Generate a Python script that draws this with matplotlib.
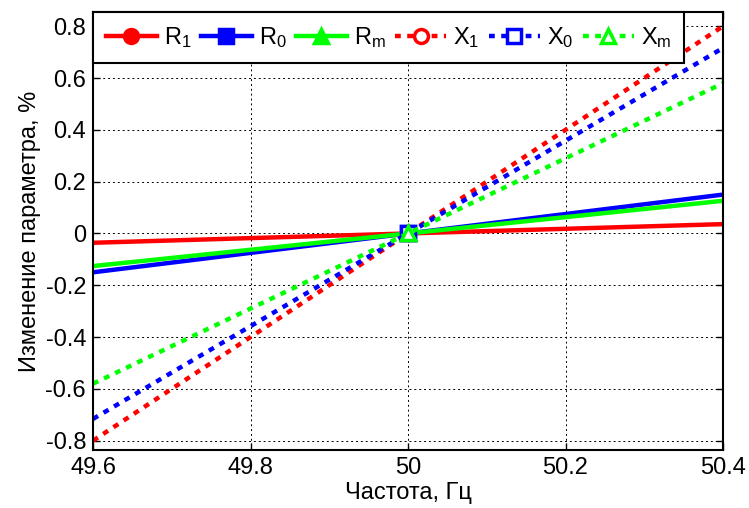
import numpy as np
import matplotlib.pyplot as plt

plt.rcParams['font.family'] = ['Liberation Sans', 'DejaVu Sans']
plt.rcParams['mathtext.default'] = 'regular'

# frequency points, Hz
freq = [49.6, 50.0, 50.4]

# parameter change, %
r1 = [-0.036, 0.0, 0.036]
r0 = [-0.150, 0.0, 0.150]
rm = [-0.126, 0.0, 0.126]
x1 = [-0.800, 0.0, 0.800]
x0 = [-0.716, 0.0, 0.716]
xm = [-0.580, 0.0, 0.580]

names = ['R$_1$', 'R$_0$', 'R$_m$', 'X$_1$', 'X$_0$', 'X$_m$']
series = [r1, r0, rm, x1, x0, xm]
colors = ['#ff0000', '#0000ff', '#00ff00', '#ff0000', '#0000ff', '#00ff00']
markers = ['o', 's', '^', 'o', 's', '^']

fig = plt.figure(figsize=(7.49, 5.08), dpi=100)
ax = fig.add_axes([0.1242, 0.1142, 0.8411, 0.8622])

dots = (0, (1.3, 1.45))
for i in range(6):
    solid = i < 3
    ax.plot(freq, series[i], color=colors[i],
            linestyle='-' if solid else dots, lw=3.2,
            marker=markers[i], markevery=[1], ms=10, mew=2.5,
            mfc=colors[i] if solid else 'white', mec=colors[i],
            label=names[i], dash_capstyle='butt')

ax.set_xlim(49.6, 50.4)
ax.set_ylim(-0.836, 0.855)
ax.set_xticks([49.6, 49.8, 50, 50.2, 50.4])
ax.set_xticklabels(['49.6', '49.8', '50', '50.2', '50.4'])
ax.set_yticks(np.arange(-0.8, 0.81, 0.2))
ax.set_yticklabels(['-0.8', '-0.6', '-0.4', '-0.2', '0', '0.2', '0.4', '0.6', '0.8'])
ax.grid(True, color='black', linestyle=(0, (2, 3)), lw=0.7)
ax.tick_params(labelsize=17, direction='in', length=5, width=1, top=True, right=True, pad=5)
for s in ax.spines.values():
    s.set_linewidth(1.5)

ax.set_xlabel('Частота, Гц', fontsize=17, labelpad=2)
ax.set_ylabel('Изменение параметра, %', fontsize=17, labelpad=3)

leg = ax.legend(loc='upper left', ncol=6, fontsize=17, fancybox=False,
                framealpha=1, edgecolor='black', borderaxespad=0,
                handlelength=2.15, handletextpad=0.3, columnspacing=0.4,
                borderpad=0.55)
leg.get_frame().set_linewidth(1.5)

fig.savefig('out.png', dpi=100)
